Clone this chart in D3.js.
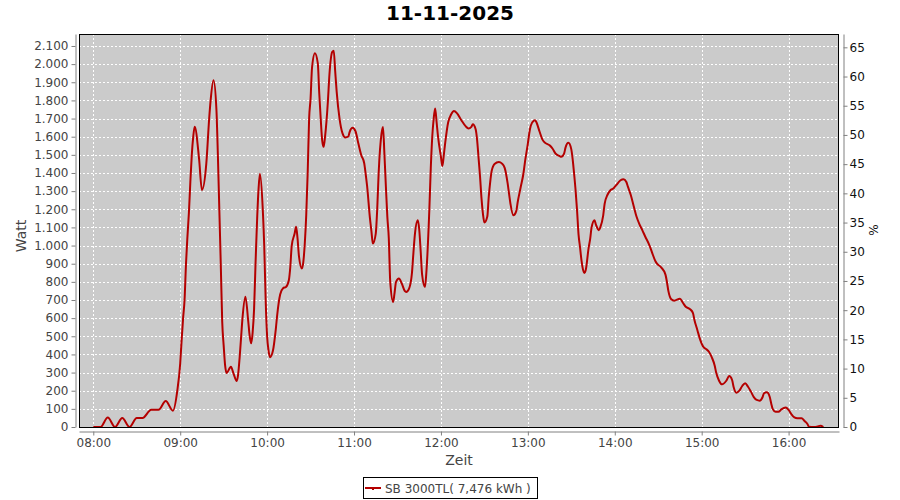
<!DOCTYPE html>
<html>
<head>
<meta charset="utf-8">
<script src="https://cdn.jsdelivr.net/npm/d3@7"></script>
<style>
  body { margin: 0; background: #fff; }
  svg { display: block; }
  text { font-family: "DejaVu Sans", sans-serif; }
</style>
</head>
<body>
<div id="chart"></div>
<script>
const chartDate = "2025-11-11";
const chartTitle = "11-11-2025";
const seriesName = "SB 3000TL( 7,476 kWh )";

// measured times (HH:MM) and power in Watt
const times = [
  "08:00","08:05","08:10","08:15","08:20","08:25","08:30","08:34","08:40","08:45",
  "08:50","08:55","08:58","09:00","09:01","09:02","09:03","09:04","09:05","09:06",
  "09:07","09:08","09:09","09:10","09:13","09:15","09:18","09:20","09:21","09:23",
  "09:25","09:26","09:27","09:28","09:29","09:30","09:31","09:32","09:35","09:37",
  "09:39","09:40","09:41","09:42","09:43","09:45","09:47","09:48","09:49","09:50",
  "09:51","09:52","09:54","09:55","09:57","09:58","09:59","10:00","10:01","10:02",
  "10:04","10:06","10:07","10:09","10:11","10:13","10:15","10:16","10:17","10:19",
  "10:20","10:21","10:22","10:24","10:25","10:26","10:27","10:28","10:29","10:30",
  "10:31","10:33","10:35","10:36","10:37","10:38","10:39","10:40","10:42","10:43",
  "10:45","10:46","10:47","10:48","10:50","10:52","10:54","10:56","10:57","10:59",
  "11:01","11:03","11:05","11:07","11:08","11:09","11:11","11:12","11:13","11:15",
  "11:16","11:17","11:19","11:20","11:21","11:22","11:23","11:24","11:25","11:27",
  "11:28","11:29","11:31","11:33","11:35","11:36","11:38","11:40","11:41","11:42",
  "11:44","11:45","11:46","11:47","11:49","11:50","11:52","11:53","11:54","11:55",
  "11:56","11:57","11:58","12:00","12:01","12:02","12:03","12:05","12:07","12:09",
  "12:11","12:14","12:17","12:19","12:21","12:22","12:24","12:25","12:26","12:27",
  "12:28","12:29","12:30","12:32","12:33","12:34","12:35","12:37","12:40","12:42",
  "12:44","12:46","12:47","12:48","12:50","12:52","12:53","12:55","12:57","12:58",
  "13:00","13:01","13:02","13:04","13:05","13:06","13:08","13:10","13:12","13:15",
  "13:17","13:19","13:22","13:23","13:25","13:26","13:28","13:30","13:31","13:32",
  "13:33","13:34","13:35","13:36","13:37","13:38","13:39","13:40","13:42","13:43",
  "13:44","13:46","13:47","13:49","13:50","13:52","13:53","13:55","13:57","13:59",
  "14:01","14:04","14:06","14:08","14:09","14:11","14:13","14:15","14:17","14:19",
  "14:21","14:24","14:26","14:28","14:29","14:32","14:35","14:36","14:37","14:39",
  "14:41","14:45","14:47","14:49","14:52","14:54","14:55","14:57","14:59","15:01",
  "15:03","15:05","15:07","15:09","15:10","15:12","15:14","15:17","15:19","15:21",
  "15:22","15:24","15:26","15:28","15:30","15:32","15:34","15:36","15:38","15:40",
  "15:42","15:43","15:45","15:47","15:48","15:49","15:51","15:53","15:55","15:58",
  "16:00","16:02","16:04","16:06","16:09","16:11","16:13","16:14","16:18","16:20",
  "16:22","16:24"
];
const watts = [
  0,0,52,0,50,0,50,50,95,95,
  143,90,200,350,480,600,700,900,1050,1180,
  1350,1500,1600,1655,1480,1306,1450,1700,1800,1911,
  1750,1500,1200,900,580,450,340,298,332,290,
  253,290,380,490,600,718,580,500,461,520,
  650,900,1300,1396,1200,1000,700,500,420,385,
  420,540,620,730,765,772,809,882,1000,1066,
  1103,1040,940,873,910,1010,1167,1400,1700,1810,
  1980,2060,2004,1838,1700,1581,1544,1600,1800,1940,
  2068,2074,1960,1850,1700,1620,1596,1600,1627,1649,
  1630,1562,1498,1455,1397,1330,1150,1080,1011,1066,
  1200,1400,1618,1654,1500,1324,1158,1040,800,689,
  740,800,818,790,750,744,763,850,960,1060,
  1140,1090,970,840,772,860,1200,1430,1600,1700,
  1756,1680,1600,1489,1438,1500,1570,1680,1722,1741,
  1730,1692,1658,1645,1654,1669,1640,1580,1480,1380,
  1260,1175,1127,1160,1268,1350,1410,1450,1461,1453,
  1428,1345,1287,1230,1167,1190,1240,1320,1400,1460,
  1562,1620,1660,1688,1691,1678,1630,1585,1566,1553,
  1535,1508,1493,1489,1507,1540,1566,1530,1471,1390,
  1300,1190,1060,993,920,870,849,866,990,1035,
  1100,1140,1115,1085,1100,1165,1230,1280,1305,1314,
  1333,1360,1366,1350,1326,1280,1220,1160,1118,1085,
  1050,1000,956,915,902,880,840,800,750,704,
  696,707,685,663,649,628,590,535,480,443,
  430,415,384,338,300,255,235,255,281,259,
  222,189,200,226,241,222,195,165,149,145,
  164,186,191,165,130,100,84,84,97,107,
  94,70,53,48,48,33,17,2,0,3,
  7,0
];

const wattTicks = d3.range(0, 2101, 100);
const percentTicks = d3.range(0, 66, 5);
const hourTicks = ["08:00","09:00","10:00","11:00","12:00","13:00","14:00","15:00","16:00"];

const width = 900, height = 500;
const plot = { left: 79, right: 839, top: 34, bottom: 427 };

const parseTime = d3.timeParse("%Y-%m-%d %H:%M:%S");
const data = times.map((t, i) => ({ t: parseTime(chartDate + " " + t + ":00"), v: watts[i] }));

const de = d3.formatLocale({ decimal: ",", thousands: ".", grouping: [3], currency: ["", " €"] });
const fmtW = de.format(",d");

const svg = d3.select("#chart").append("svg")
  .attr("width", width)
  .attr("height", height);

svg.append("rect").attr("width", width).attr("height", height).attr("fill", "#fff");

// scales
const x = d3.scaleTime()
  .domain([parseTime(chartDate + " 07:50:08"), parseTime(chartDate + " 16:34:48")])
  .range([plot.left, plot.right]);
const y = d3.scaleLinear().domain([0, 2166]).range([plot.bottom, plot.top]);
const y2 = d3.scaleLinear().domain([0, 67.28]).range([plot.bottom, plot.top]);

const hourDates = hourTicks.map(h => parseTime(chartDate + " " + h + ":00"));

// plot background
svg.append("rect")
  .attr("x", plot.left).attr("y", plot.top)
  .attr("width", plot.right - plot.left).attr("height", plot.bottom - plot.top)
  .attr("fill", "#cbcbcb");

// grid lines
const grid = svg.append("g").attr("stroke", "#fff").attr("stroke-dasharray", "2,2").attr("stroke-width", 1);
grid.selectAll(".hg").data(wattTicks.filter(d => d > 0)).enter().append("line")
  .attr("x1", plot.left).attr("x2", plot.right)
  .attr("y1", d => Math.round(y(d)) + 0.5).attr("y2", d => Math.round(y(d)) + 0.5);
grid.selectAll(".vg").data(hourDates).enter().append("line")
  .attr("y1", plot.top).attr("y2", plot.bottom)
  .attr("x1", d => Math.round(x(d)) + 0.5).attr("x2", d => Math.round(x(d)) + 0.5);

// the line
const line = d3.line()
  .x(d => x(d.t))
  .y(d => y(d.v))
  .curve(d3.curveMonotoneX);

svg.append("path")
  .datum(data)
  .attr("fill", "none")
  .attr("stroke", "#b40000")
  .attr("stroke-width", 2)
  .attr("stroke-linejoin", "round")
  .attr("d", line);

// plot outline
svg.append("rect")
  .attr("x", plot.left + 0.5).attr("y", plot.top + 0.5)
  .attr("width", plot.right - plot.left - 1).attr("height", plot.bottom - plot.top)
  .attr("fill", "none").attr("stroke", "#000");

// axes
function styleAxis(g, color) {
  g.select(".domain").attr("stroke", "#808080");
  g.selectAll(".tick line").attr("stroke", "#808080");
  g.selectAll(".tick text")
    .attr("fill", color)
    .attr("font-size", "12px")
    .attr("font-family", "DejaVu Sans, sans-serif");
}

const leftAxis = svg.append("g")
  .attr("transform", "translate(75.5,0)")
  .call(d3.axisLeft(y).tickValues(wattTicks).tickFormat(fmtW).tickSize(4).tickSizeOuter(0).tickPadding(3));
styleAxis(leftAxis, "#444");

const rightAxis = svg.append("g")
  .attr("transform", "translate(843.5,0)")
  .call(d3.axisRight(y2).tickValues(percentTicks).tickSize(4).tickSizeOuter(0).tickPadding(2));
styleAxis(rightAxis, "#111");

const bottomAxis = svg.append("g")
  .attr("transform", "translate(0,431.5)")
  .call(d3.axisBottom(x).tickValues(hourDates).tickFormat(d3.timeFormat("%H:%M")).tickSize(4).tickSizeOuter(0).tickPadding(3));
styleAxis(bottomAxis, "#444");

// axis labels
svg.append("text")
  .attr("transform", "translate(26,236) rotate(-90)")
  .attr("text-anchor", "middle")
  .attr("font-size", "14px")
  .attr("fill", "#444")
  .text("Watt");

svg.append("text")
  .attr("transform", "translate(878,230) rotate(-90)")
  .attr("text-anchor", "middle")
  .attr("font-size", "12px")
  .attr("fill", "#111")
  .text("%");

svg.append("text")
  .attr("x", 459).attr("y", 465)
  .attr("text-anchor", "middle")
  .attr("font-size", "14px")
  .attr("fill", "#444")
  .text("Zeit");

// title
svg.append("text")
  .attr("x", 450).attr("y", 20)
  .attr("text-anchor", "middle")
  .attr("font-size", "20px")
  .attr("font-weight", "bold")
  .attr("fill", "#000")
  .text(chartTitle);

// legend
const legend = svg.append("g");
legend.append("rect")
  .attr("x", 363.5).attr("y", 477.5).attr("width", 174).attr("height", 21)
  .attr("fill", "#fff").attr("stroke", "#000");
legend.append("line")
  .attr("x1", 365).attr("x2", 381).attr("y1", 488).attr("y2", 488)
  .attr("stroke", "#b40000").attr("stroke-width", 2);
legend.append("rect")
  .attr("x", 372).attr("y", 487).attr("width", 2).attr("height", 3)
  .attr("fill", "#b40000");
legend.append("text")
  .attr("x", 385).attr("y", 492.5)
  .attr("font-size", "12px")
  .attr("fill", "#444")
  .text(seriesName);
</script>
</body>
</html>
